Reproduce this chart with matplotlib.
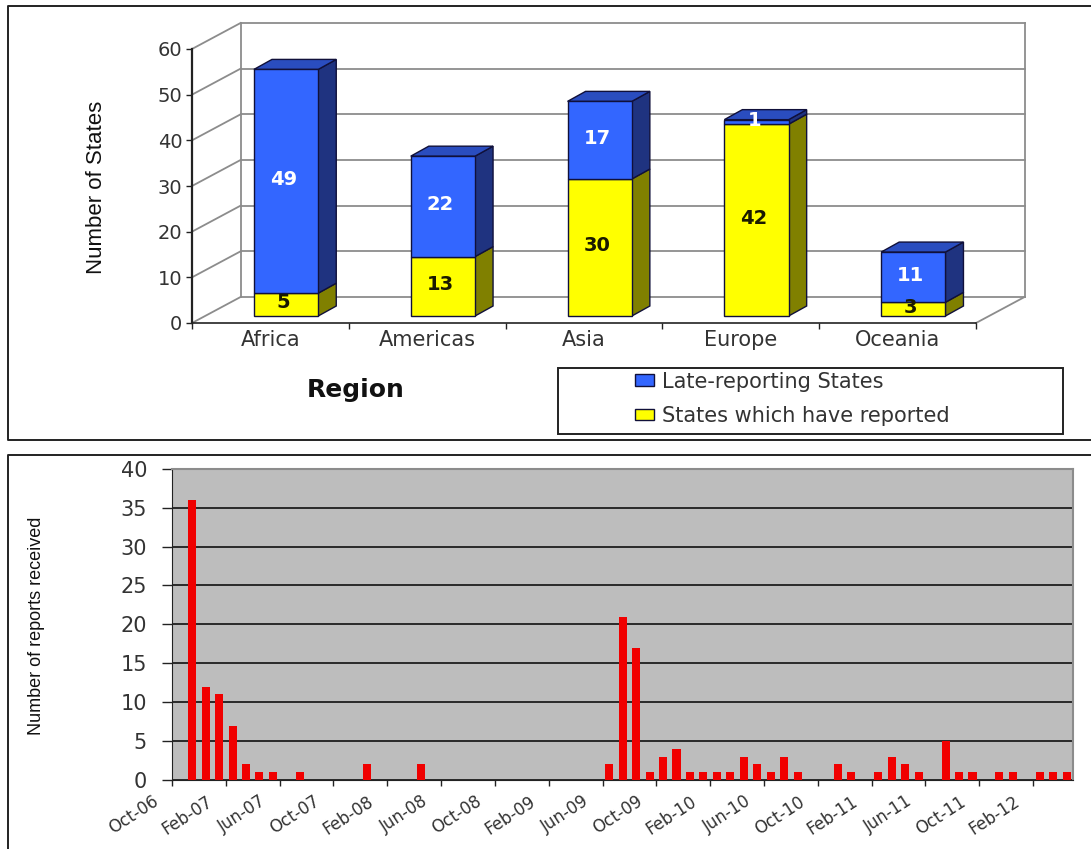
import matplotlib
matplotlib.use('Agg')
import matplotlib.pyplot as plt
from matplotlib.lines import Line2D
from matplotlib.patches import Patch, Polygon, Rectangle
from matplotlib.transforms import ScaledTranslation

W, H = 1091, 849

regions = ['Africa', 'Americas', 'Asia', 'Europe', 'Oceania']
reported = [5, 13, 30, 42, 3]
late = [49, 22, 17, 1, 11]
state_ticks = [0, 10, 20, 30, 40, 50, 60]

# one value per month, Oct-06 to Apr-12
reports = [0, 36, 12, 11, 7, 2, 1, 1, 0, 1, 0, 0, 0, 0, 2, 0, 0, 0, 2, 0, 0, 0, 0, 0,
           0, 0, 0, 0, 0, 0, 0, 0, 2, 21, 17, 1, 3, 4, 1, 1, 1, 1, 3, 2, 1, 3, 1, 0,
           0, 2, 1, 0, 1, 3, 2, 1, 0, 5, 1, 1, 0, 1, 1, 0, 1, 1, 1]
report_ticks = [0, 5, 10, 15, 20, 25, 30, 35, 40]
month_labels = ['Oct-06', 'Feb-07', 'Jun-07', 'Oct-07', 'Feb-08', 'Jun-08', 'Oct-08', 'Feb-09',
                'Jun-09', 'Oct-09', 'Feb-10', 'Jun-10', 'Oct-10', 'Feb-11', 'Jun-11', 'Oct-11', 'Feb-12']

BLUE = '#3366FF'
BLUE_SIDE = '#1F3380'
BLUE_TOP = '#2A4DBF'
YELLOW = '#FFFF00'
YELLOW_SIDE = '#808000'
EDGE = '#10103A'
GREY = '#8C8C8C'
TEXT = '#333333'
WIDE = 'DejaVu Sans'
NARROW = 'Liberation Sans'


def axes_px(x0, y0, x1, y1):
    # pixel box (y down) to figure fractions
    return fig.add_axes([x0 / W, 1 - y1 / H, (x1 - x0) / W, (y1 - y0) / H])


def frame_line(xs, ys):
    fig.add_artist(Line2D([x / W for x in xs], [1 - y / H for y in ys], color='#222222', lw=1.4))


def side_face(ax, x, low, high, color):
    ax.add_patch(Polygon([(x, low), (x + bar_dx, low + bar_dy), (x + bar_dx, high + bar_dy), (x, high)],
                         facecolor=color, edgecolor=EDGE, lw=1, zorder=3, clip_on=False))


def top_face(ax, x0, x1, y, color):
    ax.add_patch(Polygon([(x0, y), (x0 + bar_dx, y + bar_dy), (x1 + bar_dx, y + bar_dy), (x1, y)],
                         facecolor=color, edgecolor=EDGE, lw=1, zorder=3, clip_on=False))


fig = plt.figure(figsize=(W / 100, H / 100), dpi=100)
fig.patch.set_facecolor('white')

frame_line([W, 8, 8, W], [6, 6, 440, 440])
frame_line([W, 8, 8], [455, 455, H])

# top chart, fake 3D
ax = axes_px(192, 49, 976, 323)
ax.set_xlim(0, 5)
ax.set_ylim(0, 60)
ax.patch.set_alpha(0)

wall_dx = 0.31
wall_dy = 5.7
bar_dx = 0.115
bar_dy = 2.19
bar_w = 0.41
base = 1.53

for v in state_ticks:
    ax.plot([0, wall_dx], [v, v + wall_dy], color=GREY, lw=1.3, zorder=1, clip_on=False)
    ax.plot([wall_dx, 5 + wall_dx], [v + wall_dy, v + wall_dy], color=GREY, lw=1.3, zorder=1, clip_on=False)
ax.plot([wall_dx, wall_dx], [wall_dy, 60 + wall_dy], color=GREY, lw=1.3, zorder=1, clip_on=False)
ax.plot([5 + wall_dx, 5 + wall_dx], [wall_dy, 60 + wall_dy], color=GREY, lw=1.3, zorder=1, clip_on=False)
ax.plot([5, 5 + wall_dx], [0, wall_dy], color=GREY, lw=1.3, zorder=1, clip_on=False)

xpos = [i + 0.6 for i in range(len(regions))]
ax.bar(xpos, reported, bar_w, bottom=base, color=YELLOW, edgecolor=EDGE, lw=1, zorder=4, clip_on=False)
ax.bar(xpos, late, bar_w, bottom=[base + r for r in reported], color=BLUE, edgecolor=EDGE, lw=1,
       zorder=4, clip_on=False)

for x, r, l in zip(xpos, reported, late):
    right = x + bar_w / 2
    side_face(ax, right, base, base + r, YELLOW_SIDE)
    side_face(ax, right, base + r, base + r + l, BLUE_SIDE)
    top_face(ax, x - bar_w / 2, right, base + r + l, BLUE_TOP)
    ax.text(x - 0.015, base + r / 2 + 0.4, str(r), ha='center', va='center', color='#1A1A00',
            fontsize=14, fontweight='bold', family=WIDE, zorder=6)
    ax.text(x - 0.015, base + r + l / 2 + 0.4, str(l), ha='center', va='center', color='white',
            fontsize=14, fontweight='bold', family=WIDE, zorder=6, clip_on=False)

for name in ['top', 'right']:
    ax.spines[name].set_visible(False)
ax.spines['left'].set_linewidth(1.6)
ax.spines['left'].set_color('#222222')
ax.spines['bottom'].set_linewidth(1.2)
ax.spines['bottom'].set_color('#222222')
ax.set_xticks(range(6))
ax.set_xticklabels([])
ax.set_xticks([i + 0.5 for i in range(len(regions))], regions, minor=True)
ax.tick_params(axis='x', which='major', length=4, width=1, color='#222222')
ax.tick_params(axis='x', which='minor', length=0, pad=5, labelsize=15, labelcolor=TEXT)
ax.set_yticks(state_ticks)
ax.tick_params(axis='y', length=4, width=1, pad=3, labelsize=14, labelcolor=TEXT, color='#222222')

fig.text(97 / W, 1 - 187 / H, 'Number of States', rotation=90, ha='center', va='center',
         family=NARROW, fontsize=16, color='#111111')
fig.text(356 / W, 1 - 390 / H, 'Region', ha='center', va='center', family=WIDE, fontsize=18,
         fontweight='bold', color='#111111')

fig.add_artist(Rectangle((557.5 / W, 1 - 434 / H), 505.5 / W, 66.5 / H, facecolor='white',
                         edgecolor='#222222', lw=1.4, transform=fig.transFigure))
handles = [Patch(facecolor=BLUE, edgecolor=EDGE, label='Late-reporting States'),
           Patch(facecolor=YELLOW, edgecolor=EDGE, label='States which have reported')]
fig.legend(handles=handles, loc='upper left', bbox_to_anchor=(616 / W, 1 - 353 / H), frameon=False,
           prop={'family': WIDE, 'size': 15}, labelcolor=TEXT, handlelength=0.9, handleheight=0.5,
           handletextpad=0.4, labelspacing=0.68)

# bottom chart, monthly reports
ax2 = axes_px(172, 468.7, 1073.4, 780)
ax2.set_facecolor('#BDBDBD')
months = [i + 0.5 for i in range(len(reports))]
ax2.bar(months, reports, 0.6, color='#F00000', zorder=3)
ax2.set_xlim(0, len(reports))
ax2.set_ylim(0, 40)
ax2.set_yticks(report_ticks)
ax2.yaxis.grid(True, color='#111111', lw=1.2, zorder=1)
ax2.set_axisbelow(True)
ax2.spines['top'].set_color('#8C8C8C')
ax2.spines['right'].set_color('#8C8C8C')
ax2.spines['top'].set_linewidth(1.5)
ax2.spines['right'].set_linewidth(1.5)
ax2.spines['left'].set_color('#222222')
ax2.spines['bottom'].set_color('#222222')
ax2.set_xticks(range(0, 65, 4))
ax2.set_xticklabels(month_labels, rotation=33, ha='right', rotation_mode='anchor')
ax2.tick_params(axis='x', length=4, width=1, pad=5, labelsize=12, labelcolor=TEXT, color='#222222')
ax2.tick_params(axis='y', length=7, width=1, pad=11, labelsize=15, labelcolor=TEXT, color='#222222')
# the labels sit well left of their ticks in the original
for lab in ax2.get_xticklabels():
    lab.set_transform(lab.get_transform() + ScaledTranslation(-20 / 100, 0, fig.dpi_scale_trans))

fig.text(37 / W, 1 - 626 / H, 'Number of reports received', rotation=90, ha='center', va='center',
         family=NARROW, fontsize=13, color='#111111')

fig.savefig('out.png', dpi=100)
